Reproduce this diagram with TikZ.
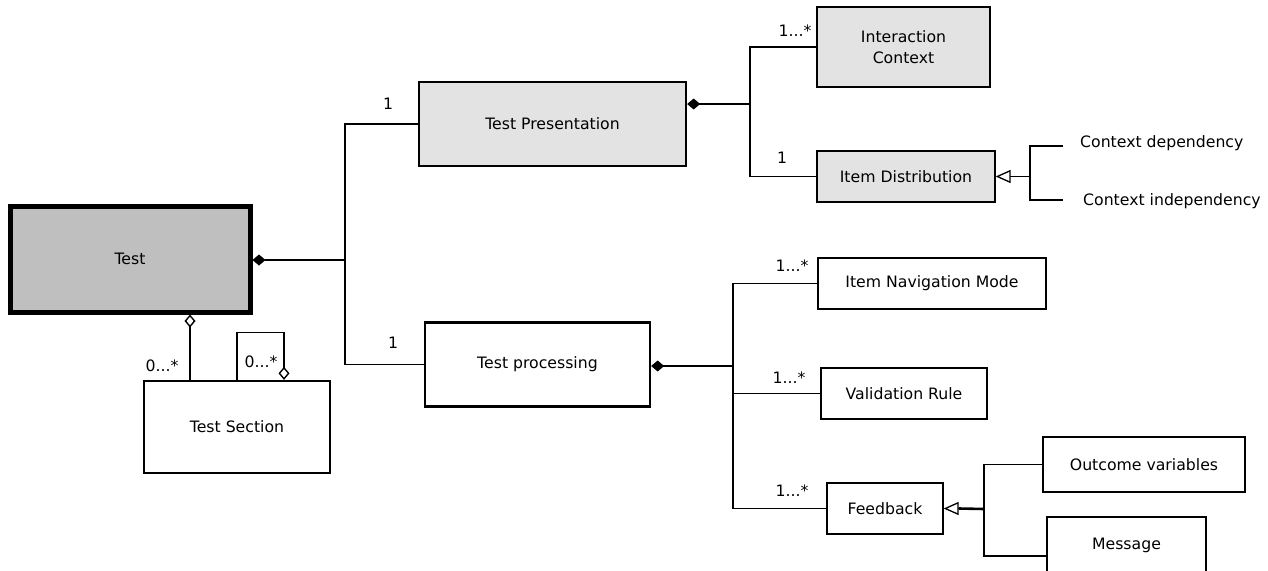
\documentclass[tikz,border=0pt]{standalone}
\usepackage{fontspec}
\setmainfont{DejaVu Sans}
\usetikzlibrary{arrows.meta,calc}
\tikzset{
  box/.style={draw, rectangle, inner sep=0pt, line width=1.3pt, font=\fontsize{15.7}{19}\selectfont, align=center},
  bigbox/.style={box, line width=2.3pt},
  shade/.style={fill=black!11},
  conn/.style={line width=1.2pt},
  mult/.style={font=\fontsize{15.7}{18}\selectfont, inner sep=0pt},
  plain/.style={font=\fontsize{15.7}{19}\selectfont, inner sep=0pt, anchor=west},
  fdiam/.style={{Diamond[length=13pt,width=11pt]}-},
  odiam/.style={{Diamond[open,length=13pt,width=11pt,line width=1.4pt]}-},
  otri/.style={{Triangle[open,length=15pt,width=13pt,line width=1.3pt]}-}
}
\begin{document}
\begin{tikzpicture}[x=1pt,y=-1pt]
\useasboundingbox[fill=white] (0,0) rectangle (1268,570);
\begin{scope}
\clip (0,0) rectangle (1268,570);
% boxes
\node[box, line width=5pt, fill=black!25, minimum width=240pt, minimum height=106pt] (test) at (130,259) {Test};
\node[bigbox, shade, minimum width=267pt, minimum height=84pt] (pres) at (552.5,124) {Test Presentation};
\node[bigbox, minimum width=225pt, minimum height=84pt] (proc) at (537.5,364.5) {Test processing};
\node[bigbox, minimum width=186pt, minimum height=92pt] (sec) at (237,427) {Test Section};
\node[box, shade, minimum width=173pt, minimum height=80pt] (ic) at (903.5,47) {Interaction\\[2pt]Context};
\node[box, shade, minimum width=178pt, minimum height=51pt] (idist) at (906,176.5) {Item Distribution};
\node[box, minimum width=228pt, minimum height=51pt] (nav) at (932,283.5) {Item Navigation Mode};
\node[box, minimum width=166pt, minimum height=51pt] (val) at (904,393.5) {Validation Rule};
\node[box, minimum width=116pt, minimum height=51pt] (fb) at (885,508.5) {Feedback};
\node[box, minimum width=202pt, minimum height=55pt] (out) at (1144,464.5) {Outcome variables};
\node[box, minimum width=159pt, minimum height=56pt] (msg) at (1126.5,545) {Message};
\node[plain] (cdep) at (1080,143) {Context dependency};
\node[plain] (cind) at (1083,201) {Context independency};
% junctions
\coordinate (j1) at (345,260);
\coordinate (j2) at (750,104);
\coordinate (j3) at (733,366);
\coordinate (j4) at (1030,176.5);
\coordinate (j5) at (984,509);
\coordinate (e1) at ($(cdep.west)+(-17,3)$);
\coordinate (e2) at ($(cind.west)+(-20,-1)$);
\coordinate (cx1) at (190,0);
\coordinate (cx2) at (237,0);
\coordinate (cx3) at (284,0);
% connectors
\draw[conn, fdiam] (test.east |- j1) -- (j1);
\draw[conn] (pres.west) -| (j1) -- (j1 |- proc.west) -- (proc.west);
\draw[conn, fdiam] ([yshift=20pt]pres.east) -- (j2);
\draw[conn] (ic.west) -| (j2) |- (idist.west);
\draw[conn, otri] (idist.east) -- (j4);
\draw[conn] (e1) -| (j4) |- (e2);
\draw[conn, fdiam] (proc.east |- j3) -- (j3);
\draw[conn] (nav.west) -| (j3) |- (fb.west);
\draw[conn] (j3 |- val.west) -- (val.west);
\draw[line width=2.6pt] ($(fb.east)+(15,0)$) -- (j5);
\draw[conn, otri] (fb.east) -- ($(fb.east)+(16,0)$);
\draw[conn] (out.west) -| (j5) |- (msg.west |- 0,556);
\draw[line width=2.8pt, {Diamond[open,length=13pt,width=11pt,line width=1.4pt]}-] (test.south -| cx1) -- (sec.north -| cx1);
\draw[conn, odiam] (sec.north -| cx3) -- ++(0,-47) -| (sec.north -| cx2);
% multiplicities
\node[mult] (m1) at (388,104) {1};
\node[mult] (m2) at (393,343) {1};
\node[mult] (m3) at (795,31) {1...*};
\node[mult] (m4) at (782,158) {1};
\node[mult] (m5) at (792,266) {1...*};
\node[mult] (m6) at (789,378) {1...*};
\node[mult] (m7) at (792,491) {1...*};
\node[mult] (m8) at (162,366) {0...*};
\node[mult] (m9) at (261,362) {0...*};
\end{scope}
\end{tikzpicture}
\end{document}
